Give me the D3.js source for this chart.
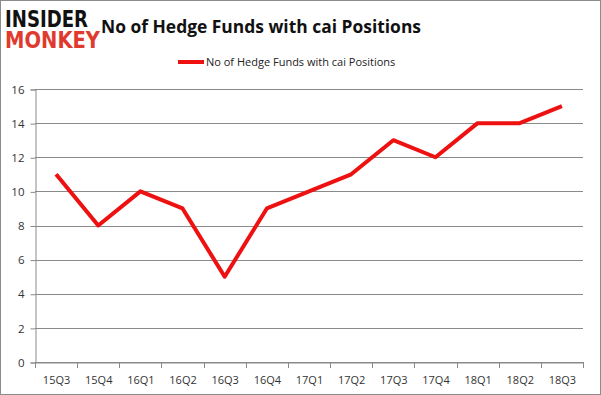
<!doctype html>
<html>
<head>
<script src="https://d3js.org/d3.v7.min.js"></script>
<style>
  body { margin:0; background:#fff; }
  svg { display:block; font-family:"Open Sans", "DejaVu Sans", sans-serif; }
</style>
</head>
<body>
<svg id="chart" width="601" height="395"></svg>
<script>
var quarters = ["15Q3","15Q4","16Q1","16Q2","16Q3","16Q4","17Q1","17Q2","17Q3","17Q4","18Q1","18Q2","18Q3"];
var funds = [11, 8, 10, 9, 5, 9, 10, 11, 13, 12, 14, 14, 15];
var yTicks = [0, 2, 4, 6, 8, 10, 12, 14, 16];
var seriesName = "No of Hedge Funds with cai Positions";

var svg = d3.select("#chart");

// outer frame
svg.append("rect").attr("x",0.5).attr("y",0.5).attr("width",600).attr("height",394)
  .attr("fill","white").attr("stroke","#8c8c8c");

// logo
svg.append("text").attr("x",5).attr("y",27).text("INSIDER")
  .attr("font-family","'DejaVu Sans', sans-serif").attr("font-weight","bold")
  .attr("font-size",23).attr("textLength",83).attr("lengthAdjust","spacingAndGlyphs").attr("fill","#111");
svg.append("text").attr("x",5).attr("y",48).text("MONKEY")
  .attr("font-family","'DejaVu Sans', sans-serif").attr("font-weight","bold")
  .attr("font-size",23).attr("textLength",95).attr("lengthAdjust","spacingAndGlyphs").attr("fill","#e03a2e");

// title
svg.append("text").attr("x",101).attr("y",33)
  .attr("font-size",18.5).attr("font-weight","bold").attr("fill","#111")
  .attr("textLength",320).attr("lengthAdjust","spacingAndGlyphs")
  .text("No of Hedge Funds with cai Positions");

// legend
svg.append("line").attr("x1",178).attr("x2",204).attr("y1",62).attr("y2",62)
  .attr("stroke","#ee1111").attr("stroke-width",4);
svg.append("text").attr("x",206).attr("y",66).attr("font-size",11).attr("fill","#222")
  .text(seriesName);

var x = d3.scaleBand().domain(quarters).range([35, 583]);
var y = d3.scaleLinear().domain([0, 16]).range([362, 89]);

// gridlines
svg.append("g").selectAll("line").data(yTicks).enter().append("line")
  .attr("x1",35).attr("x2",583)
  .attr("y1",function(d){ return Math.round(y(d)) + 0.5; })
  .attr("y2",function(d){ return Math.round(y(d)) + 0.5; })
  .attr("stroke","#8a8a8a").attr("stroke-width",1);

// y axis
var yAxis = svg.append("g").attr("transform","translate(35.5,0.5)")
  .call(d3.axisLeft(y).tickValues(yTicks).tickSize(5).tickPadding(6));
yAxis.selectAll("path,line").attr("stroke","#8a8a8a");
yAxis.selectAll("text").attr("font-size",11.5).attr("fill","#333")
  .attr("font-family","'Open Sans', sans-serif");

// x axis
var xAxis = svg.append("g").attr("transform","translate(0.5," + (Math.round(y(0)) + 0.5) + ")")
  .call(d3.axisBottom(x).tickSize(0).tickPadding(14));
xAxis.select(".domain").attr("stroke","#8a8a8a");
xAxis.selectAll("text").attr("font-size",11).attr("fill","#333")
  .attr("font-family","'Open Sans', sans-serif");
// boundary tick marks between categories
svg.append("g").selectAll("line").data(d3.range(quarters.length + 1)).enter().append("line")
  .attr("x1",function(i){ return Math.round(35 + i * x.step()) + 0.5; })
  .attr("x2",function(i){ return Math.round(35 + i * x.step()) + 0.5; })
  .attr("y1",Math.round(y(0))).attr("y2",Math.round(y(0)) + 6)
  .attr("stroke","#8a8a8a");

// line
var line = d3.line()
  .x(function(d,i){ return x(quarters[i]) + x.bandwidth() / 2; })
  .y(function(d){ return y(d); });
svg.append("path").datum(funds)
  .attr("fill","none").attr("stroke","#ee1111").attr("stroke-width",4)
  .attr("stroke-linejoin","round")
  .attr("d", line);
</script>
</body>
</html>
